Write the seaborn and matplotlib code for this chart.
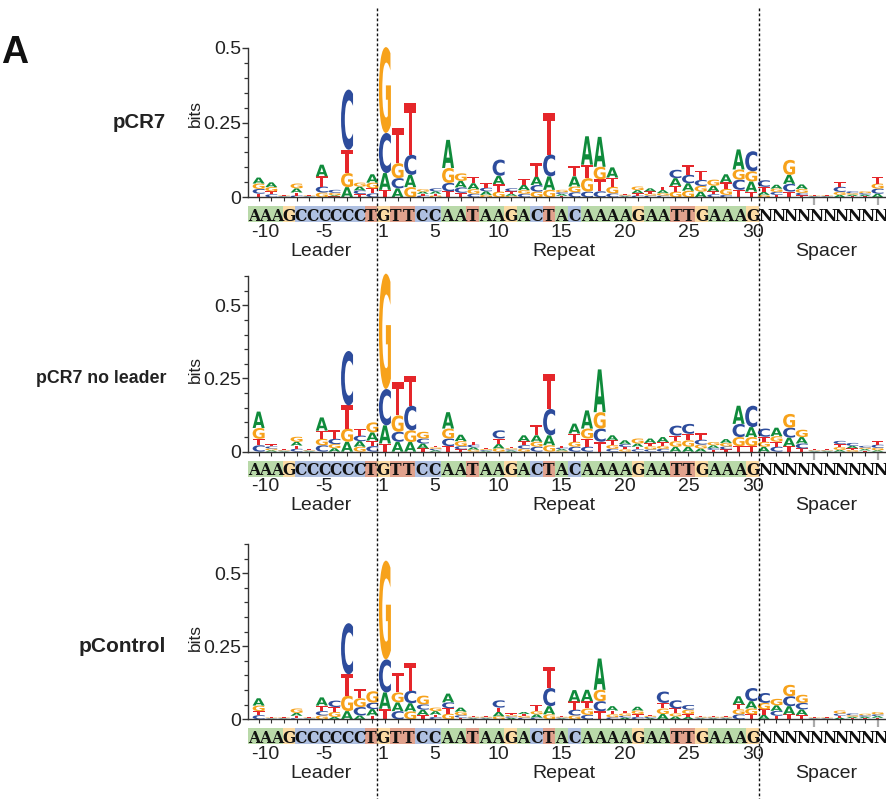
import numpy as np
import matplotlib
matplotlib.use("Agg")
import matplotlib.pyplot as plt
import seaborn as sns
from matplotlib.textpath import TextPath
from matplotlib.patches import PathPatch, Rectangle
from matplotlib.font_manager import FontProperties
from matplotlib.transforms import Affine2D, blended_transform_factory
from matplotlib.lines import Line2D

sns.set_theme(style="ticks")
plt.rcParams['font.family'] = ['Liberation Sans', 'DejaVu Sans']

# ---------------- data ----------------
panel_names = ["pCR7", "pCR7 no leader", "pControl"]
leader_seq = "AAAGCCCCCCT"
repeat_seq = "GTTCCAATAAGACTACAAAAGAATTGAAAG"
spacer_seq = "NNNNNNNNNN"
pos_labels = ["-10", "-5", "1", "5", "10", "15", "20", "25", "30"]
pos_label_pos = [-10, -5, 1, 5, 10, 15, 20, 25, 30]
region_labels = ["Leader", "Repeat", "Spacer"]
y_ticks = [0, 0.25, 0.5]
y_ticklabels = ["0", "0.25", "0.5"]
y_max = [0.5, 0.6, 0.6]

# bits per logo position (index 0..50: leader -11..-1, repeat 1..30, spacer 1..10)
pcr7_A = [0, .02, .016, .002, .014, .002, .039, .004, .034, .013, .028,
          .056, .03, .041, .007, .008, .094, .022, .02, .012, .028,
          .007, .018, .028, .045, .006, .034, .095, .1, .034, .003,
          .01, .01, .01, .026, .025, .019, .019, .027, .067, .034,
          .01, .013, .03, .015, .002, .002, .008, .005, .005, .012]
pcr7_C = [0, .016, .01, .002, .006, .002, .02, .01, .201, .012, .013,
          .134, .034, .067, .006, .01, .028, .018, .012, .012, .054,
          .01, .012, .022, .073, .006, .017, .019, .02, .013, .003,
          .006, .006, .006, .028, .028, .02, .01, .008, .034, .067,
          .022, .01, .026, .008, .002, .002, .017, .006, .005, .017]
pcr7_G = [0, .018, .014, .002, .016, .002, .016, .008, .047, .013, .019,
          .287, .05, .034, .008, .006, .05, .025, .015, .008, .019,
          .005, .012, .019, .025, .008, .019, .045, .042, .022, .003,
          .012, .006, .008, .019, .022, .019, .02, .02, .034, .034,
          .008, .011, .05, .013, .002, .002, .01, .005, .006, .017]
pcr7_T = [0, .012, .01, .002, .01, .002, .034, .003, .078, .011, .017,
          .025, .117, .173, .006, .006, .02, .015, .022, .015, .025,
          .008, .018, .045, .14, .005, .034, .045, .04, .031, .003,
          .008, .008, .012, .019, .034, .031, .01, .022, .025, .019,
          .017, .008, .019, .007, .002, .002, .017, .004, .004, .022]

noldr_A = [0, .056, .005, .002, .013, .002, .045, .012, .034, .019, .028,
           .062, .034, .033, .017, .005, .056, .022, .008, .003, .015,
           .004, .02, .022, .034, .005, .034, .062, .146, .017, .013,
           .011, .015, .017, .017, .017, .011, .009, .013, .062, .034,
           .017, .029, .029, .022, .002, .002, .006, .008, .005, .005]
noldr_C = [0, .022, .007, .002, .01, .002, .022, .018, .186, .019, .019,
           .124, .034, .084, .017, .005, .026, .011, .009, .003, .028,
           .004, .012, .017, .09, .005, .017, .017, .045, .01, .01,
           .008, .008, .01, .034, .034, .017, .007, .01, .045, .073,
           .028, .017, .034, .017, .002, .002, .011, .01, .006, .011]
noldr_G = [0, .037, .006, .002, .017, .002, .022, .014, .045, .017, .034,
           .394, .056, .04, .023, .005, .034, .017, .007, .003, .011,
           .004, .01, .017, .022, .004, .017, .034, .056, .013, .008,
           .017, .01, .01, .019, .022, .013, .011, .012, .031, .031,
           .017, .019, .047, .025, .002, .002, .01, .006, .005, .008]
noldr_T = [0, .022, .008, .002, .011, .002, .028, .03, .079, .022, .019,
           .028, .113, .101, .011, .005, .019, .008, .01, .003, .019,
           .004, .014, .034, .118, .005, .028, .028, .034, .016, .008,
           .009, .012, .013, .019, .022, .022, .006, .008, .019, .019,
           .017, .017, .019, .011, .002, .002, .01, .006, .004, .011]

ctrl_A = [0, .025, .002, .002, .01, .002, .028, .008, .028, .013, .022,
          .056, .03, .028, .018, .012, .03, .014, .003, .003, .015,
          .005, .007, .011, .028, .003, .039, .039, .107, .015, .006,
          .013, .004, .018, .01, .008, .003, .003, .003, .028, .025,
          .015, .019, .028, .019, .002, .002, .006, .005, .005, .006]
ctrl_C = [0, .014, .002, .002, .004, .002, .015, .022, .175, .029, .022,
          .113, .028, .043, .018, .008, .02, .008, .003, .003, .025,
          .005, .006, .006, .062, .003, .02, .015, .034, .007, .006,
          .008, .004, .039, .028, .016, .003, .003, .003, .017, .045,
          .034, .017, .034, .022, .002, .002, .008, .006, .005, .006]
ctrl_G = [0, .019, .002, .002, .015, .002, .013, .017, .053, .03, .039,
          .338, .034, .027, .03, .012, .019, .012, .003, .003, .01,
          .005, .006, .011, .017, .003, .013, .022, .039, .01, .008,
          .012, .004, .019, .01, .015, .003, .003, .003, .017, .02,
          .022, .022, .039, .028, .002, .002, .01, .005, .005, .008]
ctrl_T = [0, .014, .002, .002, .008, .002, .019, .017, .073, .03, .013,
          .036, .068, .096, .015, .008, .019, .006, .003, .003, .015,
          .005, .006, .022, .073, .003, .028, .025, .028, .013, .01,
          .01, .004, .019, .017, .01, .003, .003, .003, .017, .017,
          .019, .012, .017, .015, .002, .002, .006, .004, .004, .005]

panels = [
    {"A": pcr7_A, "C": pcr7_C, "G": pcr7_G, "T": pcr7_T},
    {"A": noldr_A, "C": noldr_C, "G": noldr_G, "T": noldr_T},
    {"A": ctrl_A, "C": ctrl_C, "G": ctrl_G, "T": ctrl_T},
]

# ---------------- style ----------------
letter_colors = {"A": "#0f8b3b", "C": "#2d4c9c", "G": "#f7a21b", "T": "#e5262a"}
strip_colors = {"A": "#b9d9a9", "C": "#afc0e1", "G": "#fbdba4", "T": "#e1a28d", "N": "none"}
name_sizes = [14.7, 12.8, 15]

W, H = 886, 799
fig = plt.figure(figsize=(W / 100, H / 100), dpi=100)

px_per_pos = 12.63
x0_px = 246.0          # pixel of logo index 0
xlim = (0.15, (W - x0_px) / px_per_pos)
zero_px = [197.3, 451.7, 719.3]
top_px = [47.7, 276.0, 544.0]

leader_edges = (0.16, 10.37)
repeat_edges = (10.37, 40.62)

fp = FontProperties(family="DejaVu Sans", weight="bold")
glyphs = {}
for ch in "ACGT":
    tp = TextPath((0, 0), ch, size=1, prop=fp)
    glyphs[ch] = (tp, tp.get_extents())


def draw_letter(ax, ch, x, y0, h, w=0.95):
    tp, ext = glyphs[ch]
    t = (Affine2D().translate(-ext.x0, -ext.y0)
         .scale(w / ext.width, h / ext.height)
         .translate(x - w / 2, y0)) + ax.transData
    ax.add_patch(PathPatch(tp, transform=t, fc=letter_colors[ch], ec="none",
                           lw=0, clip_on=False))


def fy(px):
    return 1 - px / H


axes = []
for p in range(3):
    left = (x0_px + px_per_pos * xlim[0]) / W
    width = 1 - left
    bottom = fy(zero_px[p])
    height = (zero_px[p] - top_px[p]) / H
    ax = fig.add_axes([left, bottom, width, height])
    axes.append(ax)
    ax.set_xlim(*xlim)
    ax.set_ylim(0, y_max[p])
    sns.despine(ax=ax)
    for s in ("left", "bottom"):
        ax.spines[s].set_color("#333333")
        ax.spines[s].set_linewidth(1.0)

    # logo stacks
    data = panels[p]
    n = len(data["A"])
    for i in range(n):
        hs = sorted([(data[c][i], c) for c in "ACGT"])
        y = 0.0
        for h, c in hs:
            if h > 0:
                draw_letter(ax, c, i, y, h)
                y += h

    # y axis
    ax.set_yticks(y_ticks)
    ax.set_yticklabels(y_ticklabels)
    ax.set_yticks(np.arange(0, y_max[p] + 1e-6, 0.05), minor=True)
    ax.tick_params(axis="y", which="major", length=4, width=1, color="#333333",
                   labelsize=14, labelcolor="#222222", pad=1)
    ax.tick_params(axis="y", which="minor", length=3, width=0.9, color="#333333")
    # x axis ticks
    ax.set_xticks([45, 50])
    ax.set_xticklabels([])
    ax.set_xticks(np.arange(1, 51), minor=True)
    ax.tick_params(axis="x", which="major", length=6, width=1.6, color="#aaaaaa")
    ax.tick_params(axis="x", which="minor", length=3, width=0.8, color="#333333")

    trf = blended_transform_factory(fig.transFigure, ax.transData)
    ax.text(195 / W, 0.28, "bits", rotation=90, transform=trf, ha="center",
            va="center", fontsize=12.5, color="#222222")
    ax.text(166 / W, 0.25, panel_names[p], transform=trf, ha="right",
            va="center", fontsize=name_sizes[p], fontweight="bold", color="#222222")

    # sequence strip
    tstrip = blended_transform_factory(ax.transData, fig.transFigure)
    s_top = fy(zero_px[p] + 9)
    s_bot = fy(zero_px[p] + 25)
    cells = []
    wl = (leader_edges[1] - leader_edges[0]) / len(leader_seq)
    for k, c in enumerate(leader_seq):
        cells.append((leader_edges[0] + k * wl, wl, c))
    wr = (repeat_edges[1] - repeat_edges[0]) / len(repeat_seq)
    for k, c in enumerate(repeat_seq):
        cells.append((repeat_edges[0] + k * wr, wr, c))
    for k, c in enumerate(spacer_seq):
        cells.append((repeat_edges[1] + k * wr, wr, c))
    for (xs, wc, c) in cells:
        if strip_colors[c] != "none":
            ax.add_patch(Rectangle((xs, s_bot), wc, s_top - s_bot, transform=tstrip,
                                   fc=strip_colors[c], ec="none", clip_on=False))
        ax.text(xs + wc / 2, (s_top + s_bot) / 2, c, transform=tstrip, ha="center",
                va="center_baseline", fontsize=12.5, fontweight="bold",
                family="DejaVu Serif", fontstretch="condensed", color="#111111",
                clip_on=False)

    # position labels
    ylab = fy(zero_px[p] + 35)
    for lab, pos in zip(pos_labels, pos_label_pos):
        if pos < 0:
            k = len(leader_seq) + pos
            xc = leader_edges[0] + (k + 0.5) * wl
        else:
            xc = repeat_edges[0] + (pos - 0.5) * wr
        ax.text(xc, ylab, lab, transform=tstrip, ha="center", va="center",
                fontsize=14, color="#222222")
    yreg = fy(zero_px[p] + 54)
    for lab, xc in zip(region_labels, [5.93, 25.2, 45.9]):
        ax.text(xc, yreg, lab, transform=tstrip, ha="center", va="center",
                fontsize=14, color="#222222")

# dashed region boundaries across the whole figure
tline = blended_transform_factory(axes[0].transData, fig.transFigure)
for xb in (leader_edges[1], repeat_edges[1]):
    fig.add_artist(Line2D([xb, xb], [fy(8), 0], transform=tline, color="#111111",
                          lw=1.0, linestyle=(0, (2, 1.6))))

fig.text(1 / W, fy(63), "A", fontsize=27, fontweight="bold", va="baseline",
         ha="left", color="#111111")

fig.savefig("out.png", dpi=100)
